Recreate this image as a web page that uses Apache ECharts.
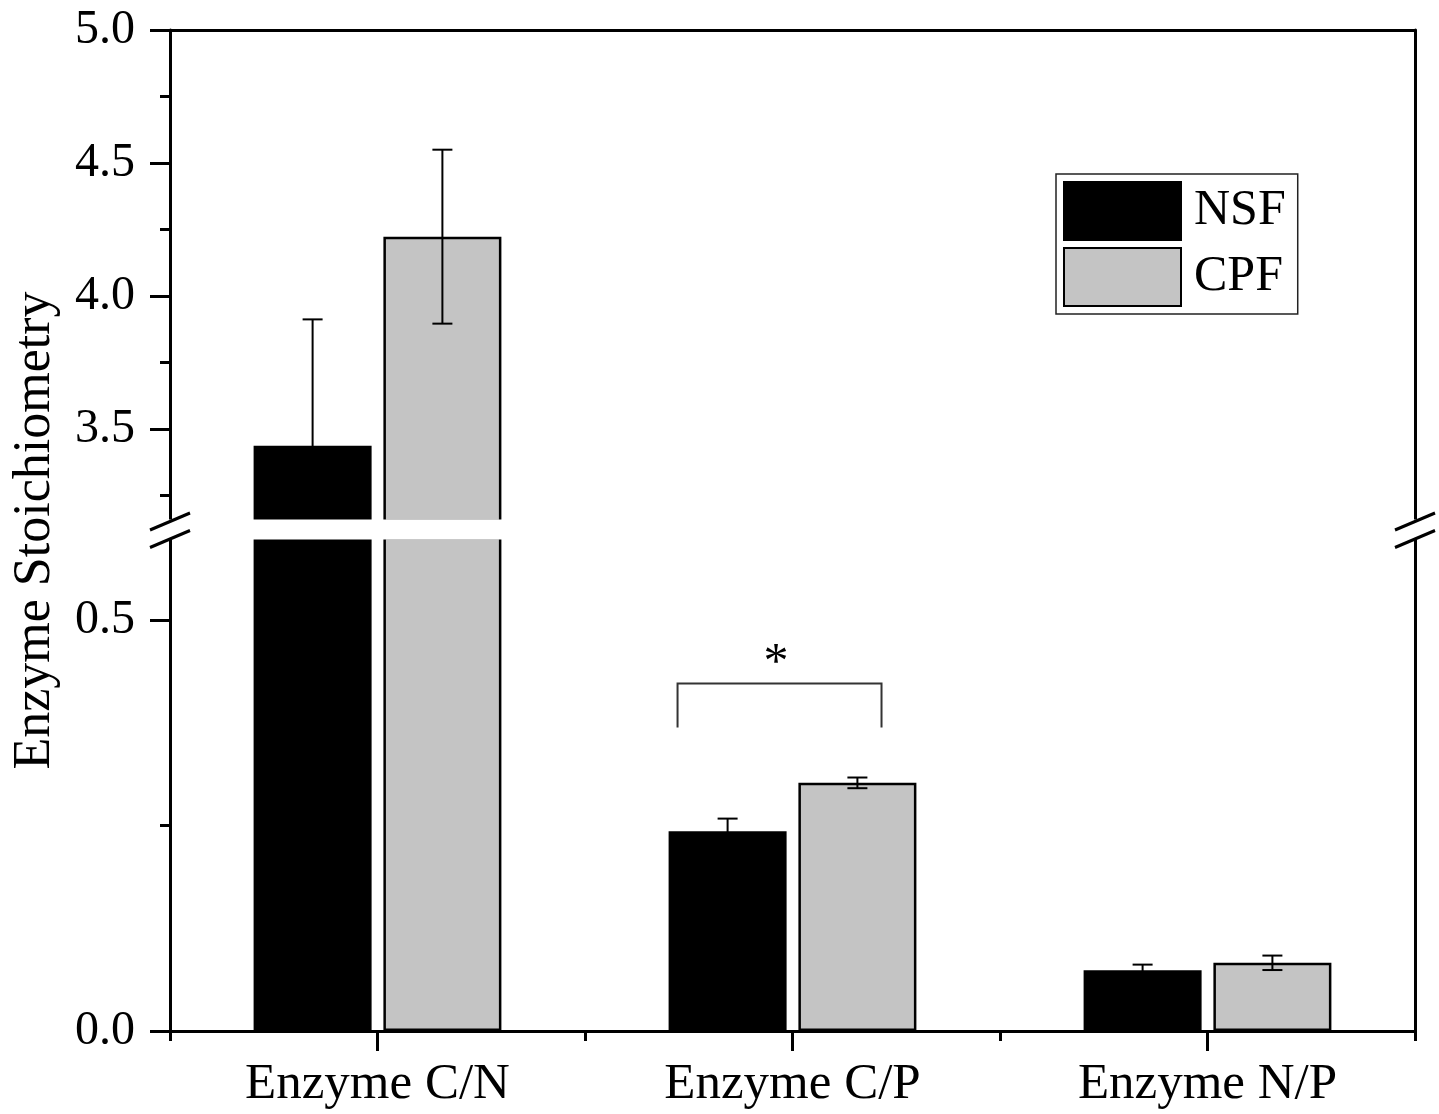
<!DOCTYPE html>
<html><head><meta charset="utf-8">
<script src="https://cdn.jsdelivr.net/npm/echarts@6/dist/echarts.min.js"></script>
<style>html,body{margin:0;padding:0;background:#fff}#c{width:1439px;height:1114px}</style>
</head><body><div id="c"></div>
<script>
// ---------- data ----------
const categories = ['Enzyme C/N', 'Enzyme C/P', 'Enzyme N/P'];
const nsfMean = [3.437, 0.243, 0.074];
const nsfErr  = [0.475, 0.0155, 0.0068];
const cpfMean = [4.223, 0.302, 0.083];
const cpfErr  = [0.327, 0.0065, 0.0088];
const upperTicks = [3.5, 4.0, 4.5, 5.0];
const upperMinorTicks = [3.25, 3.75, 4.25, 4.75];
const lowerTicks = [0.0, 0.5];
const lowerMinorTicks = [0.25];
// significance bracket: [category index, bracket top value, leg bottom value]
const sigBracket = [[1, 0.423, 0.3695]];
const sigLabel = '*';
const yTitle = 'Enzyme Stoichiometry';

// ---------- layout ----------
const W = 1439, H = 1114;
const FONT = '"Liberation Serif", "Times New Roman", serif';
const L = 170, RX = 1415, TOP = 30, BREAK_TOP = 521, BREAK_BOT = 538, BASE = 1031;
const UPPER_MIN = 3.154, UPPER_MAX = 5.0, LOWER_MIN = 0, LOWER_MAX = 0.6;
const BAR_W = 118, BAR_GAP = 0.1;
const HALF_OFF = BAR_W * (1 + BAR_GAP) / 2;
const SIG_OFF = [-0.277, 0.2145, -0.04]; // fractions of category band
const STAR_LIFT = 20;
const AX = { color: '#000', width: 3 };

function valueAxes(grid, min, max, ticks, minor) {
  return [
    { gridIndex: grid, type: 'value', min, max, position: 'left',
      axisLine: { show: true, lineStyle: AX },
      axisTick: { show: true, customValues: ticks, length: 20, lineStyle: AX },
      axisLabel: { show: true, customValues: ticks, formatter: v => Number(v).toFixed(1),
        fontFamily: FONT, fontSize: 48, color: '#000', margin: 35 },
      splitLine: { show: false } },
    { gridIndex: grid, type: 'value', min, max, position: 'left',
      axisLine: { show: false },
      axisTick: { show: true, customValues: minor, length: 10, lineStyle: AX },
      axisLabel: { show: false }, splitLine: { show: false } },
    { gridIndex: grid, type: 'value', min, max, position: 'right',
      axisLine: { show: true, lineStyle: AX },
      axisTick: { show: false }, axisLabel: { show: false }, splitLine: { show: false } }
  ];
}

function bars(xi, yi) {
  return [
    { name: 'NSF', type: 'bar', xAxisIndex: xi, yAxisIndex: yi, data: nsfMean,
      barWidth: BAR_W, barGap: (BAR_GAP * 100) + '%',
      itemStyle: { color: '#000', borderColor: '#000', borderWidth: 2.5 } },
    { name: 'CPF', type: 'bar', xAxisIndex: xi, yAxisIndex: yi, data: cpfMean,
      barWidth: BAR_W, barGap: (BAR_GAP * 100) + '%',
      itemStyle: { color: '#c4c4c4', borderColor: '#000', borderWidth: 2.5 } }
  ];
}

function errSeries(mean, err, sign, xi, yi) {
  return {
    type: 'custom', xAxisIndex: xi, yAxisIndex: yi, clip: true, z: 5, silent: true,
    data: mean.map((m, i) => [i, m, err[i]]),
    renderItem(params, api) {
      const c = api.value(0), m = api.value(1), e = api.value(2);
      const t = api.coord([c, m + e]), b = api.coord([c, m - e]);
      const x = t[0] + sign * HALF_OFF, cw = 10;
      const st = { stroke: '#000', lineWidth: 2 };
      return { type: 'group', children: [
        { type: 'line', shape: { x1: x, y1: t[1], x2: x, y2: b[1] }, style: st },
        { type: 'line', shape: { x1: x - cw, y1: t[1], x2: x + cw, y2: t[1] }, style: st },
        { type: 'line', shape: { x1: x - cw, y1: b[1], x2: x + cw, y2: b[1] }, style: st }
      ] };
    }
  };
}

const option = {
  animation: false,
  backgroundColor: '#fff',
  grid: [
    { left: L, right: W - RX, top: TOP, height: BREAK_TOP - TOP },
    { left: L, right: W - RX, top: BREAK_BOT, height: BASE - BREAK_BOT }
  ],
  xAxis: [
    { gridIndex: 0, type: 'category', data: categories, position: 'top',
      axisLine: { show: true, lineStyle: AX }, axisTick: { show: false },
      axisLabel: { show: false }, splitLine: { show: false } },
    { gridIndex: 1, type: 'category', data: categories, position: 'bottom',
      axisLine: { show: true, lineStyle: AX },
      axisTick: { show: true, alignWithLabel: true, length: 20, lineStyle: AX },
      axisLabel: { fontFamily: FONT, fontSize: 51, color: '#000', margin: 28, interval: 0 },
      splitLine: { show: false } },
    { gridIndex: 1, type: 'category', data: categories, position: 'bottom',
      axisLine: { show: false },
      axisTick: { show: true, interval: 0, length: 10, lineStyle: AX },
      axisLabel: { show: false }, splitLine: { show: false } }
  ],
  yAxis: [
    ...valueAxes(0, UPPER_MIN, UPPER_MAX, upperTicks, upperMinorTicks),
    ...valueAxes(1, LOWER_MIN, LOWER_MAX, lowerTicks, lowerMinorTicks)
  ],
  legend: {
    data: ['NSF', 'CPF'], orient: 'vertical', left: 1056, top: 174,
    padding: [7, 12, 7, 7], itemGap: 6, itemWidth: 117, itemHeight: 58,
    icon: 'rect', borderColor: '#222', borderWidth: 1.5,
    textStyle: { fontFamily: FONT, fontSize: 50, color: '#000', padding: [0, 0, 0, 8] }
  },
  series: [
    ...bars(0, 0), ...bars(1, 3),
    errSeries(nsfMean, nsfErr, -1, 0, 0), errSeries(cpfMean, cpfErr, 1, 0, 0),
    errSeries(nsfMean, nsfErr, -1, 1, 3), errSeries(cpfMean, cpfErr, 1, 1, 3),
    { type: 'custom', xAxisIndex: 1, yAxisIndex: 3, z: 6, silent: true, data: sigBracket,
      renderItem(params, api) {
        const c = api.value(0);
        const band = api.size([1, 0])[0];
        const pt = api.coord([c, api.value(1)]), pb = api.coord([c, api.value(2)]);
        const xl = pt[0] + SIG_OFF[0] * band, xr = pt[0] + SIG_OFF[1] * band, xs = pt[0] + SIG_OFF[2] * band;
        return { type: 'group', children: [
          { type: 'polyline', shape: { points: [[xl, pb[1]], [xl, pt[1]], [xr, pt[1]], [xr, pb[1]]] },
            style: { stroke: '#333', lineWidth: 2, fill: null } },
          { type: 'text', style: { text: sigLabel, x: xs, y: pt[1] - STAR_LIFT, fill: '#000',
            fontFamily: FONT, fontSize: 50, align: 'center', verticalAlign: 'middle' } }
        ] };
      } }
  ],
  graphic: [
    { type: 'rect', z: 100, silent: true,
      shape: { x: L - 3, y: BREAK_TOP - 1.5, width: RX - L + 6, height: BREAK_BOT - BREAK_TOP + 3 },
      style: { fill: '#fff' } },
    ...[L, RX].flatMap(x => [BREAK_TOP + 0.5, BREAK_BOT + 1].map(y => ({
      type: 'line', z: 101, silent: true,
      shape: { x1: x - 20, y1: y + 8.5, x2: x + 20, y2: y - 8.5 },
      style: { stroke: '#000', lineWidth: 3 } }))),
    { type: 'text', z: 101, silent: true, x: 35, y: (TOP + BASE) / 2, rotation: Math.PI / 2,
      style: { text: yTitle, fontFamily: FONT, fontSize: 52, fill: '#000', align: 'center', verticalAlign: 'middle' } }
  ]
};

const chart = echarts.init(document.getElementById('c'), null, { renderer: 'canvas', width: W, height: H });
chart.setOption(option);
</script>
</body></html>
